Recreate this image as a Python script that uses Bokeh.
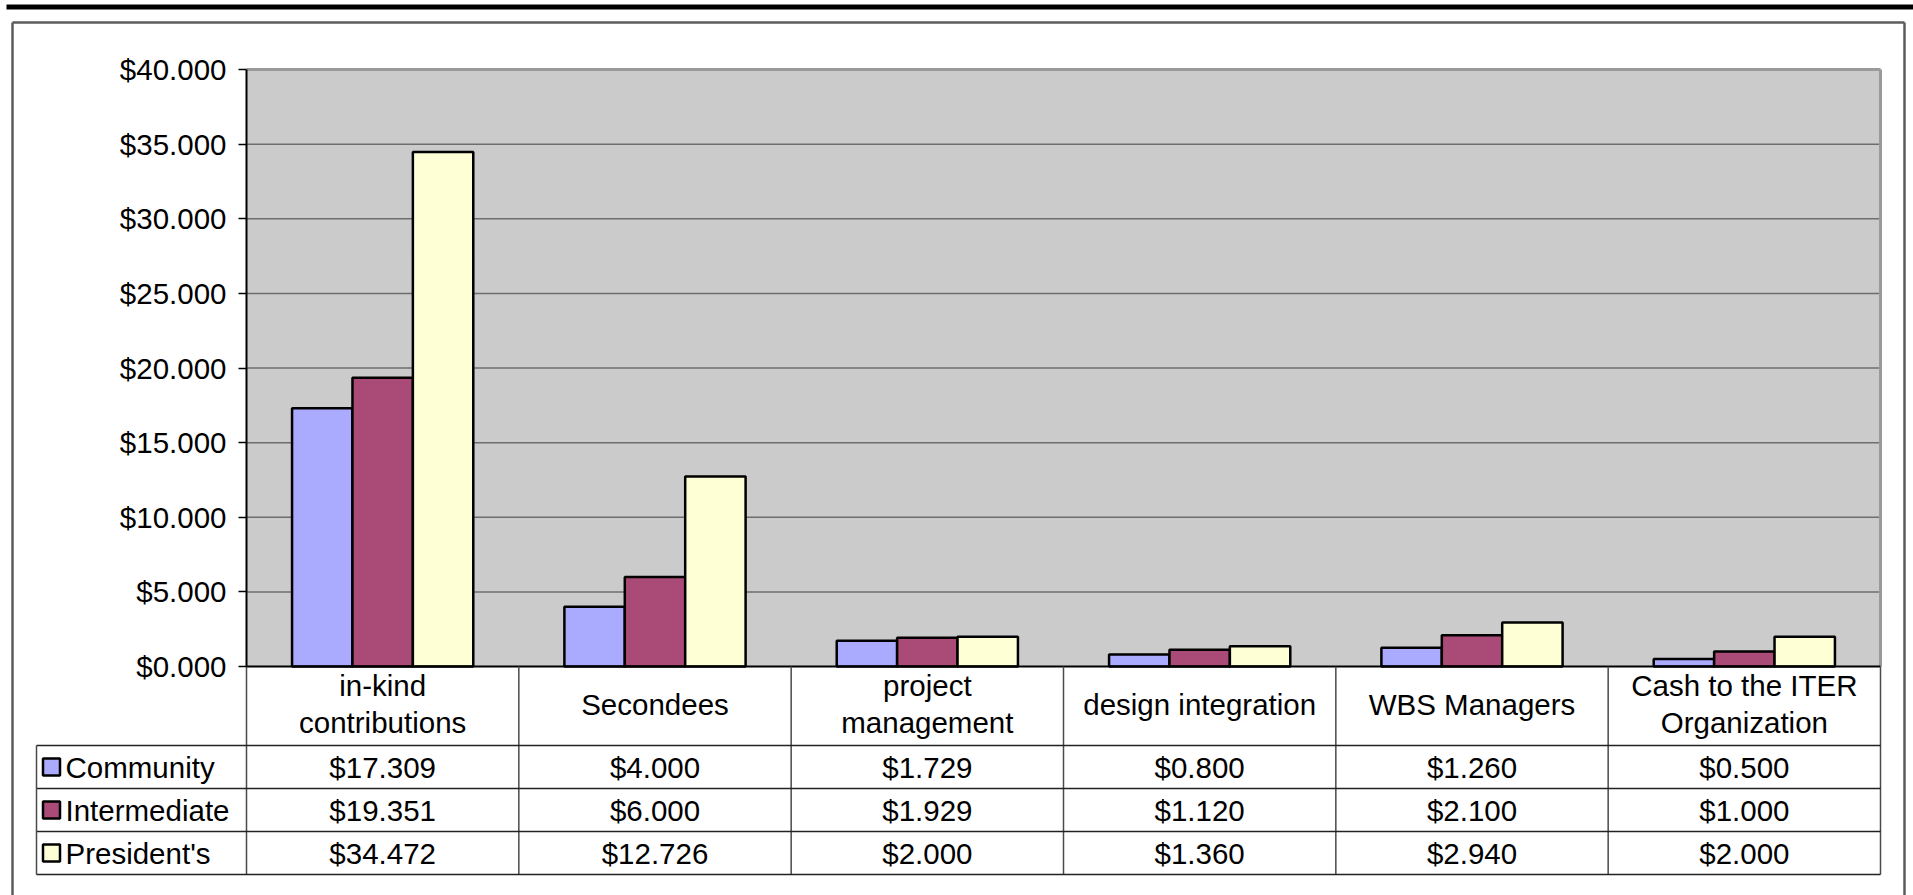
from bokeh.plotting import figure
from bokeh.models import Range1d, LinearAxis, FixedTicker
from bokeh.embed import file_html
from bokeh.resources import INLINE
from bokeh.core.properties import value

# ---------------- data ----------------
categories = ["in-kind\ncontributions", "Secondees", "project\nmanagement",
              "design integration", "WBS Managers", "Cash to the ITER\nOrganization"]
series_names = ["Community", "Intermediate", "President's"]
community = [17.309, 4.000, 1.729, 0.800, 1.260, 0.500]
intermediate = [19.351, 6.000, 1.929, 1.120, 2.100, 1.000]
presidents = [34.472, 12.726, 2.000, 1.360, 2.940, 2.000]
series_values = [community, intermediate, presidents]
series_colors = ["#AAAAFF", "#AA4A77", "#FFFFD5"]
y_ticks = [0, 5, 10, 15, 20, 25, 30, 35, 40]
y_tick_labels = ["$0.000", "$5.000", "$10.000", "$15.000", "$20.000",
                 "$25.000", "$30.000", "$35.000", "$40.000"]

# ---------------- layout (pixels) ----------------
W, H = 1913, 895
PL, PR, PT, PB = 246, 1880, 69, 666          # plot area
ROWS = [666, 745, 788, 831, 874]             # table row edges
LEG_L = 36                                    # legend column left edge
FONT = "Liberation Sans"
FS = "29.5px"

n = len(categories)
cw = (PR - PL) / n
ymax = y_ticks[-1]
ppu = (PB - PT) / ymax


def xd(px):
    return (px - PL) / cw


p = figure(width=W, height=H, output_backend="svg", toolbar_location=None,
           x_range=Range1d(xd(0), xd(W)),
           y_range=Range1d(-(H - PB) / ppu, ymax + PT / ppu),
           x_axis_type=None, y_axis_type=None, min_border=0,
           outline_line_color=None, background_fill_color="white",
           border_fill_color="white")
p.extra_x_ranges = {"px": Range1d(0, W)}
p.extra_y_ranges = {"px": Range1d(H, 0)}

# page decorations
p.segment(x0=[6], y0=[6.5], x1=[W], y1=[6.5], line_color="black", line_width=5,
          x_range_name="px", y_range_name="px")
p.segment(x0=[12, 12, 1904], y0=[22, 22, 22], x1=[1904, 12, 1904], y1=[22, H + 5, H + 5],
          line_color="#5c5c5c", line_width=2.5, x_range_name="px", y_range_name="px")

# plot area
p.quad(left=[0], right=[n], bottom=[0], top=[ymax], fill_color="#CBCBCB", line_color=None)
grid_y = y_ticks[1:-1]
p.segment(x0=[0] * len(grid_y), y0=grid_y, x1=[n] * len(grid_y), y1=grid_y,
          line_color="#6e6e6e", line_width=1.5)
p.segment(x0=[0, n], y0=[ymax, ymax], x1=[n, n], y1=[ymax, 0],
          line_color="#9a9a9a", line_width=3)

# bars
bw = 0.2218
for s, (vals, col) in enumerate(zip(series_values, series_colors)):
    xs = [i + 0.5 + (s - 1) * bw for i in range(n)]
    p.vbar(x=xs, top=vals, bottom=0, width=bw, fill_color=col,
           line_color="black", line_width=2.5)

# x axis line
p.segment(x0=[0], y0=[0], x1=[n], y1=[0], line_color="black", line_width=2)

# y axis
ax = LinearAxis(fixed_location=0, bounds=(0, ymax), ticker=FixedTicker(ticks=y_ticks))
ax.major_label_overrides = {t: lab for t, lab in zip(y_ticks, y_tick_labels)}
ax.axis_line_color = "black"
ax.axis_line_width = 2
ax.major_tick_line_color = "black"
ax.major_tick_line_width = 1.5
ax.major_tick_out = 8
ax.major_tick_in = 0
ax.minor_tick_line_color = None
ax.major_label_standoff = 12
ax.major_label_text_font = FONT
ax.major_label_text_font_size = FS
ax.major_label_text_color = "black"
p.add_layout(ax, "left")

# data table lines
xs_v = list(range(n + 1))
p.segment(x0=xs_v, y0=[ROWS[0]] * (n + 1), x1=xs_v, y1=[ROWS[-1]] * (n + 1),
          line_color="#4a4a4a", line_width=1.5, y_range_name="px")
hy = ROWS[1:]
p.segment(x0=[xd(LEG_L)] * len(hy), y0=hy, x1=[n] * len(hy), y1=hy,
          line_color="#222222", line_width=1.5, y_range_name="px")
p.segment(x0=[xd(LEG_L)], y0=[ROWS[1]], x1=[xd(LEG_L)], y1=[ROWS[-1]],
          line_color="#4a4a4a", line_width=1.5, y_range_name="px")

# category header texts
p.text(x=[i + 0.5 for i in range(n)], y=[(ROWS[0] + ROWS[1]) / 2 - 2] * n, text=categories,
       text_font=value(FONT), text_font_size=value(FS), text_align="center",
       text_baseline="middle", text_color="black", text_line_height=1.1,
       y_range_name="px")

# table values and legend
for s, (name, vals, col) in enumerate(zip(series_names, series_values, series_colors)):
    yc = (ROWS[s + 1] + ROWS[s + 2]) / 2
    p.text(x=[i + 0.5 for i in range(n)], y=[yc] * n, text=[f"${v:.3f}" for v in vals],
           text_font=value(FONT), text_font_size=value(FS), text_align="center",
           text_baseline="middle", text_color="black", y_range_name="px")
    p.scatter(x=[xd(51)], y=[yc], marker="square", size=17, fill_color=col,
              line_color="black", line_width=2.5, y_range_name="px")
    p.text(x=[xd(65)], y=[yc], text=[name], text_font=value(FONT),
           text_font_size=value(FS), text_align="left", text_baseline="middle",
           text_color="black", y_range_name="px")

open("out.html", "w").write(file_html(p, INLINE))
